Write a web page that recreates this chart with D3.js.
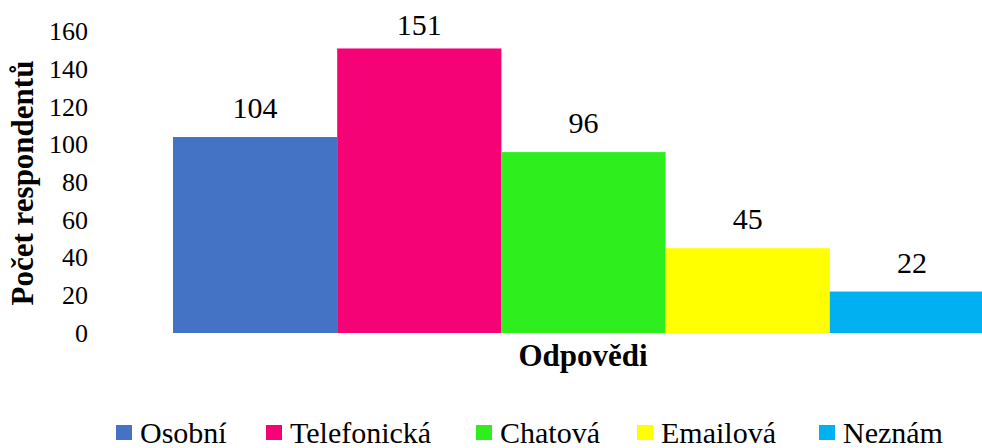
<!DOCTYPE html>
<html>
<head>
<meta charset="utf-8">
<script src="https://cdn.jsdelivr.net/npm/d3@7"></script>
<style>
  body { margin: 0; background: #fff; }
</style>
</head>
<body>
<svg class="chart"></svg>
<script>
const categories = ["Osobní", "Telefonická", "Chatová", "Emailová", "Neznám"];
const values = [104, 151, 96, 45, 22];
const colors = ["#4472C4", "#F50276", "#2EEE1E", "#FFFF00", "#00B0F0"];
const yTicks = [0, 20, 40, 60, 80, 100, 120, 140, 160];

const
  width = 982,
  height = 448,
  serif = "'Liberation Serif', 'Times New Roman', serif",
  plot = {left: 173, right: 994, top: 31.5, bottom: 333};

const svg = d3.select(".chart")
  .attr("width", width)
  .attr("height", height);

const xScale = d3.scaleBand()
  .domain(categories)
  .range([plot.left, plot.right])
  .padding(0);

const yScale = d3.scaleLinear()
  .domain([0, 160])
  .range([plot.bottom, plot.top]);

const yAxis = d3.axisLeft(yScale)
  .tickValues(yTicks)
  .tickSize(0)
  .tickPadding(0);

svg.append("g")
  .attr("transform", "translate(88,0)")
  .call(yAxis)
  .call(g => g.select(".domain").remove())
  .selectAll("text")
    .style("font-size", "26px")
    .style("font-family", serif)
    .attr("fill", "#000");

svg.selectAll("rect.bar")
  .data(values)
  .enter()
  .append("rect")
    .attr("class", "bar")
    .attr("x", (d, i) => xScale(categories[i]))
    .attr("y", d => yScale(d))
    .attr("width", xScale.bandwidth())
    .attr("height", d => plot.bottom - yScale(d))
    .attr("fill", (d, i) => colors[i]);

// labels sit ~19px above the bar, but never above the top of the picture
svg.selectAll("text.value")
  .data(values)
  .enter()
  .append("text")
    .attr("class", "value")
    .attr("x", (d, i) => xScale(categories[i]) + xScale.bandwidth() / 2)
    .attr("y", d => Math.max(yScale(d) - 19, 35))
    .attr("text-anchor", "middle")
    .style("font-family", serif)
    .style("font-size", "30px")
    .text(d => d);

svg.append("text")
  .attr("transform", "translate(33,183) rotate(-90)")
  .attr("text-anchor", "middle")
  .style("font-family", serif)
  .style("font-size", "31px")
  .style("font-weight", "bold")
  .text("Počet respondentů");

svg.append("text")
  .attr("x", 583)
  .attr("y", 366)
  .attr("text-anchor", "middle")
  .style("font-family", serif)
  .style("font-size", "31px")
  .style("font-weight", "bold")
  .text("Odpovědi");

const legendX = [116, 266, 476, 637, 819];
const legend = svg.selectAll("g.legend")
  .data(categories)
  .enter()
  .append("g")
    .attr("class", "legend")
    .attr("transform", (d, i) => `translate(${legendX[i]},425)`);

legend.append("rect")
  .attr("width", 16)
  .attr("height", 15)
  .attr("fill", (d, i) => colors[i]);

legend.append("text")
  .attr("x", 24)
  .attr("y", 18)
  .style("font-family", serif)
  .style("font-size", "30px")
  .text(d => d);
</script>
</body>
</html>
